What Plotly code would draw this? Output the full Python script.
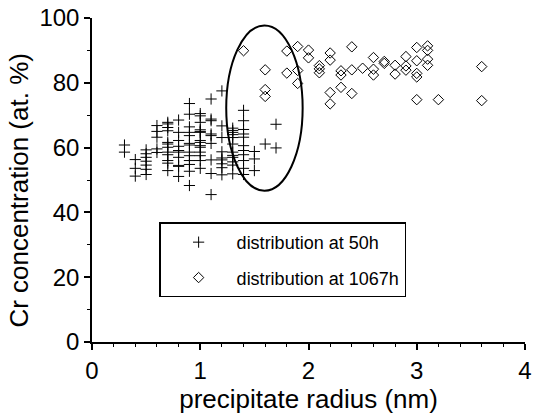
import plotly.graph_objects as go

# distribution at 50h (crosses)
x_50h = ([0.3]*2 + [0.4]*3 + [0.5]*7 + [0.6]*5 + [0.7]*12 + [0.8]*10 + [0.9]*13 +
         [1.0]*14 + [1.1]*9 + [1.2]*9 + [1.3]*12 + [1.4]*11 + [1.5]*3 + [1.6]*1 + [1.7]*2)
y_50h = [60.8, 58.6,
         56.3, 53.6, 51.2,
         59.3, 58.1, 57.0, 55.8, 54.6, 53.3, 51.7,
         66.8, 65.0, 63.2, 59.6, 58.5,
         67.8, 67.3, 66.2, 65.2, 61.6, 61.1, 60.1, 58.6, 57.8, 56.0, 55.2, 52.9,
         68.5, 64.7, 62.2, 60.4, 59.1, 58.6, 57.0, 54.5, 54.2, 51.1,
         73.6, 70.3, 66.4, 64.7, 63.7, 61.3, 60.8, 58.6, 57.5, 56.0, 54.8, 52.7, 48.3,
         70.5, 69.8, 67.8, 65.5, 65.0, 64.7, 62.2, 61.6, 60.6, 60.1, 58.6, 57.5, 56.0, 53.6,
         75.0, 68.8, 68.3, 64.2, 63.7, 61.3, 56.2, 52.0, 45.5,
         77.5, 66.7, 63.1, 58.7, 56.8, 56.2, 55.0, 53.8, 51.6,
         66.0, 65.3, 64.7, 64.0, 63.1, 61.1, 58.6, 57.6, 57.0, 55.6, 54.6, 51.9,
         71.5, 68.3, 65.6, 64.2, 63.2, 60.6, 59.1, 57.8, 56.0, 53.6, 51.7,
         58.8, 56.5, 52.9,
         61.1,
         67.2, 59.9]

# distribution at 1067h (diamonds)
x_1067h = ([1.4]*1 + [1.6]*3 + [1.8]*2 + [1.9]*3 + [2.0]*2 + [2.1]*3 + [2.2]*4 + [2.3]*3 +
           [2.4]*3 + [2.5]*1 + [2.6]*3 + [2.7]*2 + [2.8]*2 + [2.9]*3 + [3.0]*5 + [3.1]*4 +
           [3.2]*1 + [3.6]*2)
y_1067h = [89.9,
           84.0, 77.9, 75.8,
           89.8, 83.0,
           91.2, 83.8, 79.8,
           90.1, 87.7,
           85.3, 84.3, 83.1,
           89.2, 87.0, 77.0, 73.5,
           83.7, 82.4, 78.6,
           91.1, 84.0, 76.7,
           84.5,
           87.8, 84.2, 82.4,
           86.6, 86.0,
           85.4, 82.7,
           88.1, 85.2, 83.9,
           90.9, 86.8, 82.9, 81.8, 74.8,
           91.4, 90.0, 87.3, 85.4,
           74.8,
           85.0, 74.5]

# highlighted region (ellipse bounds in data units)
ell_x = [1.24, 1.946]
ell_y = [46.7, 97.7]

X_TITLE = "precipitate radius (nm)"
Y_TITLE = "Cr concentration (at. %)"

FONT = "Liberation Sans, Arial, sans-serif"

fig = go.Figure()
fig.add_trace(go.Scatter(
    x=x_50h, y=y_50h, mode="markers", name="distribution at 50h",
    legendgroup="a",
    marker=dict(symbol="cross-thin", size=8, color="black",
                line=dict(color="black", width=1)),
))
fig.add_trace(go.Scatter(
    x=x_1067h, y=y_1067h, mode="markers", name="distribution at 1067h",
    legendgroup="b",
    marker=dict(symbol="diamond-open", size=8, color="black",
                line=dict(color="black", width=1)),
))

fig.add_shape(type="circle", xref="x", yref="y",
              x0=ell_x[0], x1=ell_x[1], y0=ell_y[0], y1=ell_y[1],
              line=dict(color="black", width=2))

# y-axis title placed as rotated text (sits slightly below the plot centre in the reference)
fig.add_annotation(
    text=Y_TITLE, textangle=-90, showarrow=False,
    xref="paper", yref="paper", x=-0.168, y=0.468,
    xanchor="center", yanchor="middle",
    font=dict(family=FONT, size=26, color="black"),
)

axis_common = dict(
    showgrid=False, zeroline=False, showline=True, linecolor="black", linewidth=1.5,
    ticks="outside", ticklen=6, tickwidth=1.5, tickcolor="black",
    tickfont=dict(family=FONT, size=24, color="black"),
    mirror=False, ticklabeloverflow="allow",
)

fig.update_layout(
    width=536, height=417,
    margin=dict(l=92, r=4, t=17, b=75),
    paper_bgcolor="white", plot_bgcolor="white",
    showlegend=True,
    legend=dict(
        x=0.155, y=0.369, xanchor="left", yanchor="top",
        bordercolor="black", borderwidth=1.5, bgcolor="white",
        font=dict(family=FONT, size=18, color="black"),
        itemwidth=66, tracegroupgap=9, traceorder="grouped",
    ),
    xaxis=dict(
        range=[0, 4], dtick=1, tick0=0,
        title=dict(text=X_TITLE, font=dict(family=FONT, size=26, color="black"), standoff=4),
        minor=dict(dtick=0.2, ticklen=3, tickwidth=1.2, tickcolor="black", ticks="outside"),
        **axis_common,
    ),
    yaxis=dict(
        range=[0, 100], dtick=20, tick0=0,
        minor=dict(dtick=10, ticklen=3, tickwidth=1.2, tickcolor="black", ticks="outside"),
        **axis_common,
    ),
)

fig.write_html("out.html")
